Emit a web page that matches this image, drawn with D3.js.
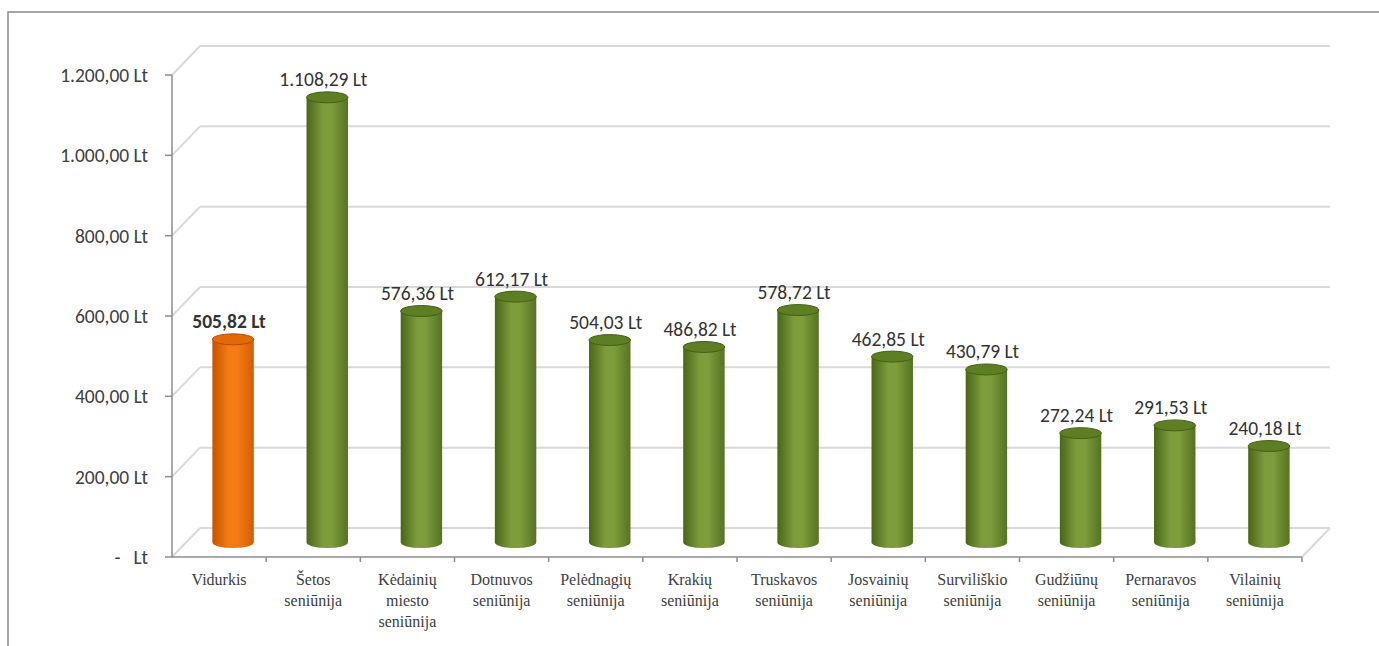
<!DOCTYPE html>
<html lang="lt">
<meta charset="UTF-8">
<style>
    body { margin: 0; background: #fff; }
    .wall { stroke: #d9d9d9; stroke-width: 2px; fill: none; }
    .axisline { stroke: #8c8c8c; stroke-width: 1.5px; fill: none; }
    .ytick { font-family: Carlito, "Liberation Sans", sans-serif; font-size: 19.5px; fill: #404040; white-space: pre; }
    .xlab { font-family: "Liberation Serif", serif; font-size: 16px; fill: #404040; }
    .vlab { font-family: Carlito, "Liberation Sans", sans-serif; font-size: 19.5px; fill: #333; }
</style>
<body>
<svg width="1379" height="646" id="chart"></svg>
<script src="https://d3js.org/d3.v7.min.js"></script>
<script>
const categories = [
    "Vidurkis", "Šetos seniūnija", "Kėdainių miesto seniūnija", "Dotnuvos seniūnija",
    "Pelėdnagių seniūnija", "Krakių seniūnija", "Truskavos seniūnija", "Josvainių seniūnija",
    "Surviliškio seniūnija", "Gudžiūnų seniūnija", "Pernaravos seniūnija", "Vilainių seniūnija"
];
const labelLines = [
    ["Vidurkis"], ["Šetos", "seniūnija"], ["Kėdainių", "miesto", "seniūnija"], ["Dotnuvos", "seniūnija"],
    ["Pelėdnagių", "seniūnija"], ["Krakių", "seniūnija"], ["Truskavos", "seniūnija"], ["Josvainių", "seniūnija"],
    ["Surviliškio", "seniūnija"], ["Gudžiūnų", "seniūnija"], ["Pernaravos", "seniūnija"], ["Vilainių", "seniūnija"]
];
const values = [505.82, 1108.29, 576.36, 612.17, 504.03, 486.82, 578.72, 462.85, 430.79, 272.24, 291.53, 240.18];
const yTicks = [0, 200, 400, 600, 800, 1000, 1200];

const svg = d3.select('#chart');

// lithuanian number format
const lt = d3.formatLocale({decimal: ",", thousands: ".", grouping: [3], currency: ["", " Lt"]});
const fmt = lt.format(",.2f");
const money = v => v === 0 ? "-   Lt" : fmt(v) + " Lt";

// outer frame
svg.append('rect')
    .attr('x', 8).attr('y', 12).attr('width', 1400).attr('height', 700)
    .attr('fill', 'none').attr('stroke', '#8a8a8a').attr('stroke-width', 1.5);

const depthX = 28, depthY = -29;

const x = d3.scaleBand().domain(categories).range([172, 1302]);
const y = d3.scaleLinear().domain([0, 1200]).range([557, 75]);

const defs = svg.append('defs');
function cylGrad(id, dark, mid, light) {
    const g = defs.append('linearGradient').attr('id', id).attr('x1', '0%').attr('x2', '100%');
    g.append('stop').attr('offset', '0%').attr('stop-color', dark);
    g.append('stop').attr('offset', '40%').attr('stop-color', light);
    g.append('stop').attr('offset', '60%').attr('stop-color', light);
    g.append('stop').attr('offset', '100%').attr('stop-color', mid);
}
cylGrad('green', '#4a6519', '#557321', '#7d9d3d');
cylGrad('orange', '#c65300', '#d45d02', '#f57c15');

// walls: side diagonals + back gridlines
const walls = svg.append('g');
yTicks.forEach(t => {
    walls.append('line').attr('class', 'wall')
        .attr('x1', 172).attr('y1', y(t)).attr('x2', 172 + depthX).attr('y2', y(t) + depthY);
    walls.append('line').attr('class', 'wall')
        .attr('x1', 172 + depthX).attr('y1', y(t) + depthY).attr('x2', 1302 + depthX).attr('y2', y(t) + depthY);
});
// floor right edge
walls.append('line').attr('class', 'wall')
    .attr('x1', 1302).attr('y1', y(0)).attr('x2', 1302 + depthX).attr('y2', y(0) + depthY);

// front axes
svg.append('line').attr('class', 'axisline')
    .attr('x1', 172).attr('y1', y(1200)).attr('x2', 172).attr('y2', y(0));
svg.append('line').attr('class', 'axisline')
    .attr('x1', 172).attr('y1', y(0)).attr('x2', 1302).attr('y2', y(0));
yTicks.forEach(t => {
    svg.append('line').attr('class', 'axisline')
        .attr('x1', 165).attr('y1', y(t)).attr('x2', 172).attr('y2', y(t));
    svg.append('text').attr('class', 'ytick')
        .attr('x', 148).attr('y', y(t) + 7)
        .attr('text-anchor', 'end')
        .text(money(t));
});
categories.forEach((c, i) => {
    const xx = x.range()[0] + x.step() * (i + 1);
    svg.append('line').attr('class', 'axisline')
        .attr('x1', xx).attr('y1', y(0)).attr('x2', xx).attr('y2', y(0) + 5);
});

// cylinders
const bw = x.bandwidth() * 0.44;
const ry = 5.5;
const bars = svg.append('g');
categories.forEach((c, i) => {
    const cx = x(c) + x.bandwidth() / 2 + depthX / 2;
    const yTop = y(values[i]) + depthY / 2;
    const yBot = y(0) + depthY / 2;
    const isAvg = i === 0;
    const grad = isAvg ? 'url(#orange)' : 'url(#green)';
    const topFill = isAvg ? '#e36806' : '#5e7e24';
    const rim = isAvg ? '#b84c00' : '#465f17';
    bars.append('path')
        .attr('d', `M${cx - bw / 2},${yTop} L${cx - bw / 2},${yBot} A${bw / 2},${ry} 0 0 0 ${cx + bw / 2},${yBot} L${cx + bw / 2},${yTop} Z`)
        .attr('fill', grad);
    bars.append('ellipse')
        .attr('cx', cx).attr('cy', yTop).attr('rx', bw / 2).attr('ry', ry)
        .attr('fill', topFill).attr('stroke', rim).attr('stroke-width', 1);

    svg.append('text').attr('class', 'vlab')
        .attr('x', cx - 4).attr('y', yTop - 11)
        .attr('text-anchor', 'middle')
        .attr('font-weight', isAvg ? 'bold' : 'normal')
        .attr('fill', isAvg ? '#111' : '#333')
        .text(money(values[i]));

    const lab = svg.append('text').attr('class', 'xlab')
        .attr('text-anchor', 'middle');
    labelLines[i].forEach((ln, k) => {
        lab.append('tspan').attr('x', x(c) + x.bandwidth() / 2).attr('y', 585 + k * 21).text(ln);
    });
});
</script>
</body>
</html>
